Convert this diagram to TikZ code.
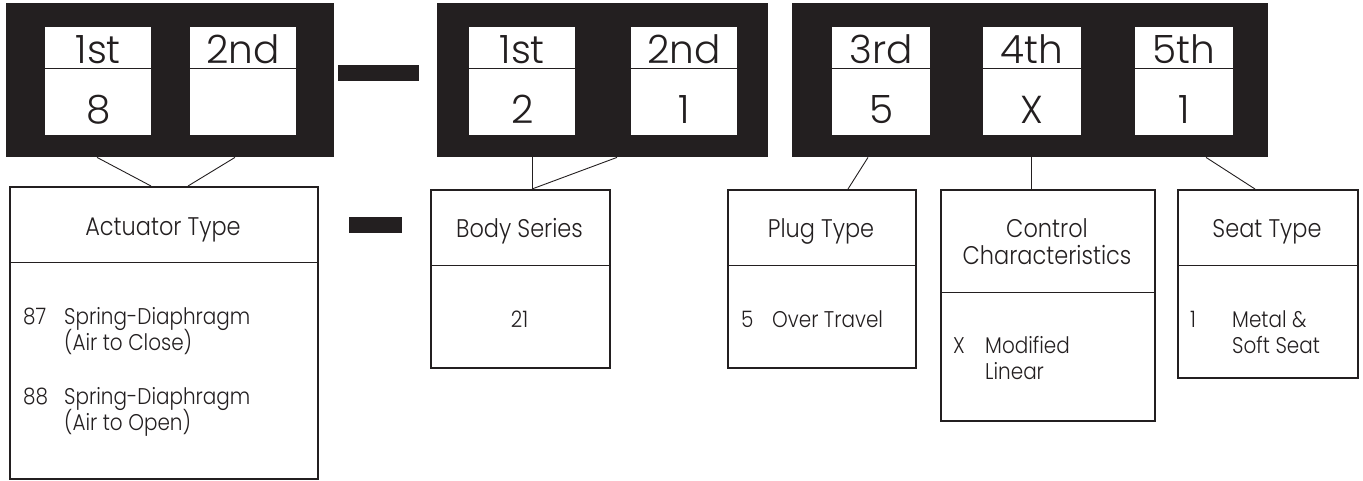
\documentclass[tikz,border=0pt]{standalone}
\usepackage{fontspec}
\setmainfont{Poppins Light}
\newfontfamily\narrowfont{Poppins Light}[FakeStretch=0.88]
\definecolor{blk}{RGB}{35,31,32}
\definecolor{ink}{RGB}{35,31,32}
\begin{document}
\begin{tikzpicture}[x=1pt,y=-1pt,
  blkbox/.style={fill=blk,draw=none,anchor=north west,inner sep=0pt},
  cellbox/.style={fill=white,draw=none,anchor=north west,inner sep=0pt,minimum height=108pt},
  infobox/.style={draw=ink,line width=2pt,anchor=north west,inner sep=0pt},
  dashbar/.style={fill=blk,draw=none,anchor=north west,inner sep=0pt},
  divider/.style={draw=ink,line width=0.9pt},
  conn/.style={draw=ink,line width=0.9pt},
  toptxt/.style={anchor=base,text=ink,font=\fontsize{39}{42}\selectfont,inner sep=0pt},
  ttl/.style={anchor=base,text=ink,font=\narrowfont\fontsize{25.5}{27}\selectfont,inner sep=0pt},
  bodytxt/.style={anchor=base west,text=ink,font=\narrowfont\fontsize{22.7}{26.5}\selectfont,inner sep=0pt}]
\useasboundingbox (0,0) rectangle (1363,480);
% black code blocks
\node[blkbox,minimum width=328pt,minimum height=154pt] (blkA) at (6,3) {};
\node[blkbox,minimum width=331pt,minimum height=154pt] (blkB) at (437,3) {};
\node[blkbox,minimum width=476pt,minimum height=154pt] (blkC) at (792,3) {};
% dashes
\node[dashbar,minimum width=81pt,minimum height=16pt] (dashA) at (338,65) {};
\node[dashbar,minimum width=53pt,minimum height=16pt] (dashB) at (349,217) {};
% cells
\foreach \nm/\xx/\ww/\tp/\bt in {cA1/45/106/1st/8, cA2/190/106/2nd/{}, cB1/469/106/1st/2, cB2/631/106/2nd/1, cC1/832/98/3rd/5, cC2/983/98/4th/X, cC3/1135/98/5th/1}{
  \node[cellbox,minimum width=\ww pt] (\nm) at (\xx,27) {};
  \draw[divider] (\nm.west |- 0,68) -- (\nm.east |- 0,68);
  \node[toptxt] (\nm t) at ([yshift=-36pt]\nm.north) {\tp};
  \node[toptxt] (\nm b) at ([yshift=-96pt]\nm.north) {\bt};
}
% info boxes
\node[infobox,minimum width=308pt,minimum height=292pt] (act) at (9,186) {};
\draw[divider] (act.west |- 0,262) -- (act.east |- 0,262);
\node[ttl] (actT) at (163,235) {Actuator Type};
\node[bodytxt] (act1) at (23,324) {87};
\node[bodytxt] (act2) at (64,324) {Spring-Diaphragm};
\node[bodytxt] (act2b) at (64,350) {(Air to Close)};
\node[bodytxt] (act3) at (23,404) {88};
\node[bodytxt] (act4) at (64,404) {Spring-Diaphragm};
\node[bodytxt] (act4b) at (64,430) {(Air to Open)};

\node[infobox,minimum width=179pt,minimum height=178pt] (body) at (430,189) {};
\draw[divider] (body.west |- 0,265) -- (body.east |- 0,265);
\node[ttl] (bodyT) at (519.5,237) {Body Series};
\node[ttl,font=\narrowfont\fontsize{22.7}{26.5}\selectfont] (body1) at (519.5,327) {21};

\node[infobox,minimum width=188pt,minimum height=178pt] (plug) at (727,189) {};
\draw[divider] (plug.west |- 0,265) -- (plug.east |- 0,265);
\node[ttl] (plugT) at (821,237) {Plug Type};
\node[bodytxt] (plug1) at (741,327) {5};
\node[bodytxt] (plug2) at (772,327) {Over Travel};

\node[infobox,minimum width=214pt,minimum height=231pt] (ctl) at (940,189) {};
\draw[divider] (ctl.west |- 0,292) -- (ctl.east |- 0,292);
\node[ttl] (ctlT) at (1047,237) {Control};
\node[ttl] (ctlT2) at (1047,264) {Characteristics};
\node[bodytxt] (ctl1) at (953,353) {X};
\node[bodytxt] (ctl2) at (985,353) {Modified};
\node[bodytxt] (ctl2b) at (985,379) {Linear};

\node[infobox,minimum width=180pt,minimum height=188pt] (seat) at (1177,189) {};
\draw[divider] (seat.west |- 0,265) -- (seat.east |- 0,265);
\node[ttl] (seatT) at (1267,237) {Seat Type};
\node[bodytxt] (seat1) at (1190,327) {1};
\node[bodytxt] (seat2) at (1232,327) {Metal \&};
\node[bodytxt] (seat2b) at (1232,353) {Soft Seat};

% connectors
\draw[conn] ([xshift=91pt]blkA.south west) -- ([xshift=142pt]act.north west);
\draw[conn] ([xshift=229pt]blkA.south west) -- ([xshift=179pt]act.north west);
\draw[conn] ([xshift=95pt]blkB.south west) -- ([xshift=102pt]body.north west);
\draw[conn] ([xshift=180pt]blkB.south west) -- ([xshift=102pt]body.north west);
\draw[conn] ([xshift=76pt]blkC.south west) -- ([xshift=121pt]plug.north west);
\draw[conn] ([xshift=239pt]blkC.south west) -- ([xshift=91pt]ctl.north west);
\draw[conn] ([xshift=414pt]blkC.south west) -- ([xshift=78pt]seat.north west);
\end{tikzpicture}
\end{document}
